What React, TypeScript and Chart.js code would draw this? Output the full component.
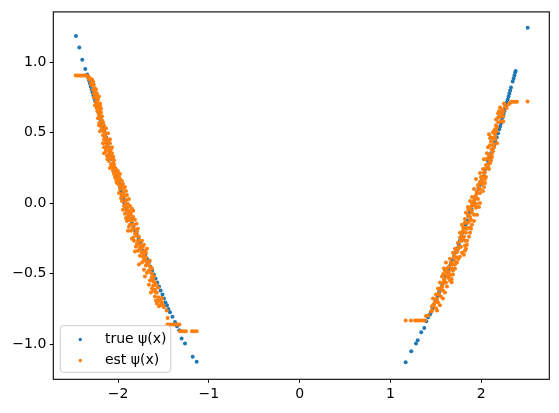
import React, { useEffect, useRef } from "react";
import { Chart, registerables } from "chart.js";

Chart.register(...registerables);

const SERIES_LABELS = ["true ψ(x)", "est ψ(x)"];
const COLORS = ["#1f77b4", "#ff7f0e"];

const X_TICKS = [-2, -1, 0, 1, 2];
const X_TICK_LABELS = ["−2", "−1", "0", "1", "2"];
const Y_TICKS = [-1, -0.5, 0, 0.5, 1];
const Y_TICK_LABELS = ["−1.0", "−0.5", "0.0", "0.5", "1.0"];
const X_RANGE = [-2.713, 2.749];
const Y_RANGE = [-1.248, 1.356];

const TRUE_LEFT: number[][] = [
  [-2.464, 1.185], [-2.427, 1.104], [-2.394, 1.016], [-2.361, 0.952],
  [-2.340, 0.912], [-2.330, 0.891], [-2.320, 0.870], [-2.310, 0.848], [-2.301, 0.827],
  [-2.291, 0.806], [-2.281, 0.785], [-2.271, 0.764], [-2.261, 0.743], [-2.251, 0.721],
  [-2.241, 0.700], [-2.231, 0.679], [-2.221, 0.658], [-2.211, 0.637], [-2.202, 0.616],
  [-2.193, 0.595], [-2.183, 0.573], [-2.173, 0.552], [-2.163, 0.531], [-2.153, 0.510],
  [-2.143, 0.489], [-2.133, 0.468], [-2.123, 0.447],
  [-2.115, 0.424], [-2.101, 0.395], [-2.089, 0.367], [-2.077, 0.339], [-2.065, 0.311],
  [-2.053, 0.282], [-2.041, 0.254], [-2.029, 0.226], [-2.017, 0.198], [-2.003, 0.170],
  [-1.991, 0.142], [-1.979, 0.115], [-1.967, 0.087], [-1.955, 0.058], [-1.943, 0.030],
  [-1.931, 0.002], [-1.917, -0.026], [-1.905, -0.054],
  [-1.887, -0.082], [-1.868, -0.110], [-1.849, -0.139], [-1.830, -0.167], [-1.812, -0.195],
  [-1.793, -0.224], [-1.774, -0.252], [-1.756, -0.280], [-1.737, -0.308], [-1.718, -0.336],
  [-1.699, -0.364], [-1.681, -0.393], [-1.662, -0.421], [-1.643, -0.449], [-1.624, -0.477],
  [-1.606, -0.506], [-1.587, -0.534], [-1.568, -0.562], [-1.549, -0.590], [-1.531, -0.619],
  [-1.511, -0.647], [-1.494, -0.675], [-1.478, -0.703], [-1.461, -0.724], [-1.445, -0.749],
  [-1.428, -0.772], [-1.401, -0.805], [-1.373, -0.842], [-1.351, -0.872], [-1.326, -0.901],
  [-1.300, -0.959], [-1.263, -0.994], [-1.178, -1.089], [-1.134, -1.124],
];

const TRUE_RIGHT: number[][] = [
  [1.167, -1.128], [1.229, -1.049], [1.281, -0.994], [1.300, -0.971], [1.339, -0.915],
  [1.372, -0.884], [1.394, -0.837], [1.413, -0.809], [1.435, -0.788],
  [1.444, -0.774], [1.463, -0.743], [1.481, -0.715], [1.499, -0.686], [1.518, -0.658],
  [1.536, -0.630], [1.554, -0.602], [1.573, -0.574], [1.591, -0.545], [1.609, -0.517],
  [1.628, -0.489], [1.646, -0.461], [1.664, -0.433], [1.683, -0.404], [1.702, -0.376],
  [1.720, -0.348],
  [1.736, -0.319], [1.751, -0.291], [1.767, -0.263], [1.782, -0.235], [1.797, -0.206],
  [1.814, -0.178], [1.829, -0.150], [1.845, -0.122], [1.860, -0.093], [1.876, -0.065],
  [1.891, -0.037], [1.906, -0.009], [1.922, 0.016], [1.937, 0.044], [1.953, 0.073],
  [1.968, 0.101], [1.985, 0.129], [2.000, 0.157], [2.015, 0.185], [2.031, 0.214],
  [2.046, 0.242], [2.062, 0.270], [2.077, 0.298], [2.093, 0.327], [2.108, 0.355],
  [2.123, 0.383], [2.139, 0.411], [2.154, 0.439], [2.170, 0.468], [2.185, 0.496],
  [2.198, 0.524], [2.208, 0.545], [2.217, 0.566], [2.226, 0.587], [2.236, 0.609],
  [2.245, 0.630], [2.254, 0.651], [2.263, 0.672], [2.272, 0.693], [2.282, 0.715],
  [2.291, 0.736], [2.300, 0.757], [2.309, 0.778], [2.318, 0.799], [2.327, 0.820],
  [2.346, 0.862], [2.356, 0.884], [2.365, 0.905], [2.373, 0.926], [2.379, 0.938],
  [2.511, 1.243],
];

const EST_LEFT: number[][] = [
  [-2.467, 0.905], [-2.447, 0.905], [-2.427, 0.905], [-2.409, 0.905], [-2.387, 0.905],
  [-2.366, 0.905], [-2.346, 0.905],
  [-2.326, 0.898], [-2.309, 0.886], [-2.287, 0.877], [-2.275, 0.862], [-2.267, 0.839],
  [-2.256, 0.815], [-2.256, 0.792], [-2.241, 0.767], [-2.236, 0.743], [-2.233, 0.721],
  [-2.199, 0.706], [-2.188, 0.671],
  [-2.227, 0.697], [-2.218, 0.674], [-2.227, 0.651], [-2.210, 0.628], [-2.199, 0.605],
  [-2.207, 0.568], [-2.194, 0.549], [-2.181, 0.533], [-2.161, 0.513], [-2.144, 0.498],
  [-2.144, 0.475], [-2.126, 0.453], [-2.139, 0.432], [-2.126, 0.408], [-2.108, 0.390],
  [-2.133, 0.369], [-2.108, 0.346], [-2.095, 0.322], [-2.117, 0.312], [-2.073, 0.348],
  [-2.053, 0.330], [-2.045, 0.305], [-2.053, 0.281], [-2.035, 0.251], [-2.056, 0.228],
  [-2.015, 0.207], [-2.012, 0.178], [-2.017, 0.150], [-1.990, 0.157], [-1.979, 0.207],
  [-1.962, 0.129], [-1.942, 0.108], [-1.942, 0.080], [-1.960, 0.059], [-1.960, 0.037],
  [-1.924, 0.051], [-1.905, 0.023], [-1.916, -0.005], [-1.896, -0.033], [-1.905, -0.054],
  [-1.887, -0.079], [-1.887, -0.102], [-1.863, -0.068], [-1.833, -0.054], [-1.833, -0.097],
  [-1.852, -0.125], [-1.833, -0.153], [-1.826, -0.181], [-1.796, -0.146], [-1.796, -0.195],
  [-1.793, -0.231], [-1.833, -0.243], [-1.770, -0.266], [-1.760, -0.294], [-1.749, -0.322],
  [-1.727, -0.308], [-1.704, -0.337], [-1.740, -0.348], [-1.715, -0.365], [-1.693, -0.384],
  [-1.698, -0.407], [-1.671, -0.428], [-1.649, -0.449], [-1.660, -0.477], [-1.630, -0.499],
  [-1.630, -0.525], [-1.612, -0.555], [-1.612, -0.583], [-1.594, -0.611], [-1.583, -0.633],
  [-1.557, -0.666], [-1.557, -0.693], [-1.520, -0.671], [-1.538, -0.724], [-1.502, -0.724],
  [-1.465, -0.760], [-1.454, -0.814],
  [-2.299, 0.848], [-2.276, 0.806], [-2.232, 0.778], [-2.265, 0.750], [-2.221, 0.736],
  [-2.254, 0.693], [-2.210, 0.665], [-2.188, 0.644], [-2.221, 0.602], [-2.177, 0.588],
  [-2.155, 0.552], [-2.199, 0.510], [-2.166, 0.482], [-2.111, 0.496], [-2.089, 0.454],
  [-2.122, 0.411], [-2.166, 0.425], [-2.155, 0.397], [-2.089, 0.425], [-2.067, 0.397],
  [-2.155, 0.355], [-2.089, 0.369], [-2.056, 0.312], [-2.100, 0.299], [-2.078, 0.277],
  [-2.067, 0.263], [-2.023, 0.242], [-2.001, 0.228], [-2.045, 0.207], [-1.990, 0.185],
  [-2.023, 0.171], [-1.990, 0.129], [-1.957, 0.157], [-1.924, 0.115], [-1.979, 0.101],
  [-1.913, 0.087], [-1.935, 0.051], [-1.990, 0.073], [-1.957, 0.016], [-1.880, 0.030],
  [-1.935, -0.019], [-1.869, -0.019], [-1.880, -0.054], [-1.858, -0.082], [-1.924, -0.075],
  [-1.902, -0.126], [-1.869, -0.153], [-1.814, -0.118], [-1.781, -0.181], [-1.858, -0.195],
  [-1.814, -0.217], [-1.770, -0.238], [-1.880, -0.167], [-1.825, -0.266], [-1.792, -0.287],
  [-1.737, -0.266], [-1.693, -0.351], [-1.781, -0.336], [-1.726, -0.379], [-1.682, -0.322],
  [-1.803, -0.308], [-1.737, -0.421], [-1.693, -0.442], [-1.627, -0.463], [-1.682, -0.492],
  [-1.605, -0.520], [-1.649, -0.548], [-1.583, -0.577], [-1.627, -0.605], [-1.572, -0.633],
  [-1.594, -0.661], [-1.539, -0.689], [-1.572, -0.710], [-1.517, -0.703], [-1.495, -0.738],
  [-2.321, 0.877], [-2.287, 0.834], [-2.243, 0.806], [-2.265, 0.778], [-2.210, 0.757],
  [-2.243, 0.714], [-2.199, 0.693], [-2.232, 0.672], [-2.199, 0.637], [-2.177, 0.616],
  [-2.210, 0.552], [-2.166, 0.573], [-2.133, 0.531], [-2.177, 0.524], [-2.155, 0.454],
  [-2.111, 0.439], [-2.133, 0.383], [-2.078, 0.383], [-2.122, 0.334], [-2.067, 0.355],
  [-2.089, 0.327], [-2.045, 0.277], [-2.089, 0.249], [-2.056, 0.249], [-2.012, 0.221],
  [-2.034, 0.185], [-1.979, 0.171], [-2.012, 0.143], [-1.968, 0.115], [-1.946, 0.136],
  [-1.946, 0.066], [-1.902, 0.059], [-1.968, 0.037], [-1.924, 0.016], [-1.891, -0.005],
  [-1.946, -0.047], [-1.902, -0.033], [-1.847, -0.040], [-1.913, -0.104], [-1.880, -0.118],
  [-1.847, -0.111], [-1.825, -0.153], [-1.891, -0.195], [-1.836, -0.181], [-1.792, -0.202],
  [-1.847, -0.252], [-1.781, -0.266], [-1.759, -0.315], [-1.814, -0.343], [-1.715, -0.294],
  [-1.759, -0.372], [-1.715, -0.400], [-1.682, -0.421], [-1.770, -0.435], [-1.649, -0.407],
  [-1.715, -0.471], [-1.649, -0.485], [-1.704, -0.520], [-1.660, -0.577], [-1.616, -0.541],
  [-1.594, -0.562], [-1.638, -0.633], [-1.605, -0.619], [-1.561, -0.597], [-1.583, -0.689],
  [-1.550, -0.731], [-1.517, -0.675],
  [-1.456, -0.860], [-1.434, -0.860], [-1.412, -0.860], [-1.390, -0.860], [-1.368, -0.860],
  [-1.346, -0.860], [-1.324, -0.860],
  [-1.318, -0.907], [-1.296, -0.907], [-1.274, -0.907], [-1.252, -0.907],
  [-1.186, -0.907], [-1.164, -0.907], [-1.134, -0.907],
];

const EST_RIGHT: number[][] = [
  [1.167, -0.832], [1.226, -0.832], [1.270, -0.832], [1.292, -0.832], [1.314, -0.832],
  [1.336, -0.832], [1.358, -0.832], [1.380, -0.832],
  [1.391, -0.800], [1.416, -0.795], [1.446, -0.767], [1.471, -0.724], [1.490, -0.701],
  [1.509, -0.677], [1.526, -0.642], [1.545, -0.614], [1.564, -0.595], [1.581, -0.567],
  [1.595, -0.537], [1.619, -0.513], [1.581, -0.501], [1.600, -0.477], [1.622, -0.463],
  [1.644, -0.485], [1.655, -0.509], [1.674, -0.537], [1.674, -0.560], [1.677, -0.463],
  [1.692, -0.435], [1.705, -0.407], [1.705, -0.372], [1.747, -0.395], [1.729, -0.384],
  [1.732, -0.347], [1.747, -0.324], [1.820, -0.336], [1.820, -0.301], [1.820, -0.266],
  [1.784, -0.266], [1.766, -0.243], [1.784, -0.219], [1.802, -0.195], [1.839, -0.174],
  [1.802, -0.172], [1.820, -0.137], [1.876, -0.125], [1.876, -0.172], [1.857, -0.090],
  [1.857, -0.047], [1.894, -0.068], [1.894, -0.019], [1.920, 0.016], [1.949, -0.005],
  [1.931, 0.044], [1.949, 0.080], [1.967, 0.115], [1.985, 0.150], [2.004, 0.178],
  [1.985, 0.101], [2.008, 0.136], [2.030, 0.192], [2.041, 0.221], [2.041, 0.172],
  [2.057, 0.249], [2.075, 0.277], [2.075, 0.320], [2.096, 0.298], [2.115, 0.348],
  [2.115, 0.383], [2.132, 0.418], [2.132, 0.461], [2.096, 0.463], [2.151, 0.489],
  [2.151, 0.524], [2.170, 0.510], [2.187, 0.573], [2.187, 0.608], [2.206, 0.616],
  [2.225, 0.637], [2.242, 0.651], [2.242, 0.616], [2.242, 0.580], [2.261, 0.686],
  [2.280, 0.674], [2.300, 0.700], [2.316, 0.711],
  [2.085, 0.489], [2.151, 0.468], [2.107, 0.439], [2.173, 0.425], [2.074, 0.397],
  [2.140, 0.397], [2.063, 0.355], [2.118, 0.327], [2.030, 0.312], [2.096, 0.284],
  [2.052, 0.270], [2.019, 0.242], [2.085, 0.242], [1.986, 0.214], [2.052, 0.185],
  [1.942, 0.171], [2.008, 0.157], [1.964, 0.129], [2.030, 0.115], [1.920, 0.101],
  [1.986, 0.073], [1.942, 0.059], [1.898, 0.044], [1.964, 0.030], [1.876, 0.016],
  [1.920, -0.012], [1.975, -0.026], [1.853, -0.026], [1.898, -0.054], [1.831, -0.068],
  [1.953, -0.082], [1.876, -0.097], [1.820, -0.111], [1.920, -0.126], [1.853, -0.139],
  [1.787, -0.153], [1.887, -0.181], [1.831, -0.209], [1.765, -0.209], [1.864, -0.238],
  [1.798, -0.252], [1.743, -0.280], [1.842, -0.294], [1.776, -0.308], [1.710, -0.322],
  [1.809, -0.365], [1.688, -0.351], [1.732, -0.421], [1.655, -0.393], [1.611, -0.421],
  [1.677, -0.435], [1.589, -0.463], [1.710, -0.463], [1.633, -0.520], [1.567, -0.520],
  [1.688, -0.506], [1.611, -0.562], [1.545, -0.562], [1.644, -0.534], [1.523, -0.604],
  [1.578, -0.619], [1.501, -0.647], [1.556, -0.661], [1.468, -0.675], [1.523, -0.703],
  [1.457, -0.731], [1.501, -0.745],
  [2.173, 0.538], [2.217, 0.580], [2.162, 0.594], [2.206, 0.679], [2.250, 0.706],
  [2.195, 0.651], [2.129, 0.503],
  [2.107, 0.468], [2.140, 0.510], [2.162, 0.552], [2.195, 0.608], [2.228, 0.665],
  [2.184, 0.636], [2.151, 0.454], [2.096, 0.411], [2.129, 0.369], [2.085, 0.341],
  [2.052, 0.312], [2.107, 0.305], [2.074, 0.256], [2.030, 0.214], [2.041, 0.143],
  [1.997, 0.185], [1.975, 0.101], [2.019, 0.087], [1.953, 0.073], [1.931, 0.030],
  [1.986, 0.002], [1.898, 0.002], [1.942, -0.033], [1.876, -0.040], [1.920, -0.082],
  [1.854, -0.082], [1.887, -0.118], [1.832, -0.139], [1.898, -0.153], [1.843, -0.181],
  [1.799, -0.195], [1.876, -0.209], [1.810, -0.238], [1.776, -0.266], [1.843, -0.266],
  [1.754, -0.308], [1.832, -0.322], [1.732, -0.336], [1.787, -0.351], [1.699, -0.379],
  [1.765, -0.379], [1.666, -0.421], [1.710, -0.435], [1.644, -0.449], [1.688, -0.477],
  [1.622, -0.492], [1.655, -0.548], [1.589, -0.548], [1.622, -0.591], [1.567, -0.591],
  [1.600, -0.633], [1.534, -0.647], [1.578, -0.675], [1.512, -0.689], [1.545, -0.724],
  [1.479, -0.717], [1.512, -0.760], [1.457, -0.760],
  [2.335, 0.719], [2.355, 0.719], [2.375, 0.719], [2.393, 0.719], [2.509, 0.721],
];

const TRUE_PSI = [...TRUE_LEFT, ...TRUE_RIGHT];
const EST_PSI = [...EST_LEFT, ...EST_RIGHT];

const FONT = '"DejaVu Sans", "Liberation Sans", sans-serif';
const POINT_RADIUS = 2.0;

const framePlugin = {
  id: "frameAndLegend",
  afterDatasetsDraw(chart: any) {
    const { ctx, chartArea } = chart;
    ctx.save();
    ctx.strokeStyle = "#000";
    ctx.lineWidth = 1.1;
    ctx.strokeRect(chartArea.left, chartArea.top, chartArea.right - chartArea.left, chartArea.bottom - chartArea.top);
    ctx.restore();
  },
  afterDraw(chart: any) {
    const { ctx, chartArea } = chart;
    const pad = 7;
    const w = 110.5;
    const h = 46.6;
    const x0 = chartArea.left + pad;
    const y0 = chartArea.bottom - pad - h;
    ctx.save();
    ctx.beginPath();
    const r = 3;
    ctx.moveTo(x0 + r, y0);
    ctx.lineTo(x0 + w - r, y0);
    ctx.quadraticCurveTo(x0 + w, y0, x0 + w, y0 + r);
    ctx.lineTo(x0 + w, y0 + h - r);
    ctx.quadraticCurveTo(x0 + w, y0 + h, x0 + w - r, y0 + h);
    ctx.lineTo(x0 + r, y0 + h);
    ctx.quadraticCurveTo(x0, y0 + h, x0, y0 + h - r);
    ctx.lineTo(x0, y0 + r);
    ctx.quadraticCurveTo(x0, y0, x0 + r, y0);
    ctx.closePath();
    ctx.fillStyle = "rgba(255,255,255,0.8)";
    ctx.fill();
    ctx.strokeStyle = "#cccccc";
    ctx.lineWidth = 1;
    ctx.stroke();
    ctx.font = `14px ${FONT}`;
    ctx.textBaseline = "middle";
    ctx.textAlign = "left";
    SERIES_LABELS.forEach((label, i) => {
      const cy = y0 + 13.8 + i * 21;
      ctx.fillStyle = COLORS[i];
      ctx.beginPath();
      ctx.arc(x0 + 20, cy, 1.7, 0, Math.PI * 2);
      ctx.fill();
      ctx.fillStyle = "#000";
      ctx.fillText(label, x0 + 44.6, cy);
    });
    ctx.restore();
  },
};

export default function App() {
  const canvasRef = useRef<HTMLCanvasElement | null>(null);

  useEffect(() => {
    const canvas = canvasRef.current;
    if (!canvas) return;
    const chart = new Chart(canvas, {
      type: "scatter",
      data: {
        datasets: [
          {
            label: SERIES_LABELS[0],
            data: TRUE_PSI.map(([x, y]) => ({ x, y })),
            backgroundColor: COLORS[0],
            borderColor: COLORS[0],
            borderWidth: 0,
            pointRadius: POINT_RADIUS,
            order: 1,
          },
          {
            label: SERIES_LABELS[1],
            data: EST_PSI.map(([x, y]) => ({ x, y })),
            backgroundColor: COLORS[1],
            borderColor: COLORS[1],
            borderWidth: 0,
            pointRadius: POINT_RADIUS,
            order: 0,
          },
        ],
      },
      options: {
        responsive: false,
        animation: false,
        events: [],
        layout: { padding: { top: 10, right: 9.7, left: 0, bottom: 0 } },
        plugins: { legend: { display: false }, tooltip: { enabled: false } },
        scales: {
          x: {
            type: "linear",
            min: X_RANGE[0],
            max: X_RANGE[1],
            afterBuildTicks: (s: any) => { s.ticks = X_TICKS.map((v) => ({ value: v })); },
            afterFit: (s: any) => { s.height = 33.7; },
            grid: { display: true, drawOnChartArea: false, drawTicks: true, tickLength: 3.5, color: "#000", lineWidth: 1 },
            border: { display: false },
            ticks: {
              color: "#000",
              padding: 3,
              maxRotation: 0,
              font: { family: FONT, size: 14 },
              callback: (_v: any, i: number) => X_TICK_LABELS[i],
            },
          },
          y: {
            type: "linear",
            min: Y_RANGE[0],
            max: Y_RANGE[1],
            afterBuildTicks: (s: any) => { s.ticks = Y_TICKS.map((v) => ({ value: v })); },
            afterFit: (s: any) => { s.width = 53.3; },
            grid: { display: true, drawOnChartArea: false, drawTicks: true, tickLength: 3.5, color: "#000", lineWidth: 1 },
            border: { display: false },
            ticks: {
              color: "#000",
              padding: 3.5,
              font: { family: FONT, size: 14 },
              callback: (_v: any, i: number) => Y_TICK_LABELS[i],
            },
          },
        },
      } as any,
      plugins: [framePlugin],
    });
    return () => chart.destroy();
  }, []);

  return (
    <div style={{ position: "fixed", left: 0, top: 0, width: 559, height: 413, background: "#fff" }}>
      <canvas ref={canvasRef} width={559} height={413} />
    </div>
  );
}
